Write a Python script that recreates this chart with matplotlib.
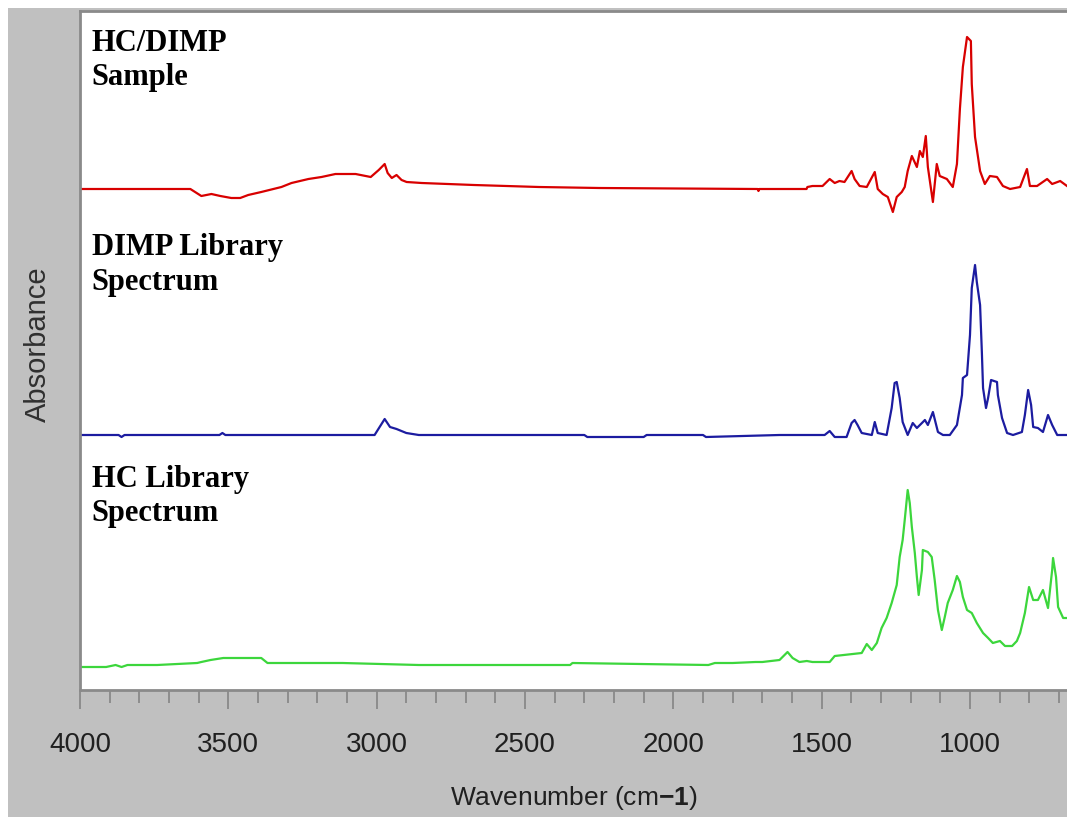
import matplotlib
matplotlib.use("Agg")
import matplotlib.pyplot as plt
from matplotlib.patches import Rectangle
from matplotlib.ticker import MultipleLocator

plt.rcParams["font.family"] = ["Liberation Sans", "DejaVu Sans"]
plt.rcParams["mathtext.fontset"] = "custom"
plt.rcParams["mathtext.rm"] = "Liberation Sans"
plt.rcParams["mathtext.bf"] = "Liberation Sans:bold"

# HC/DIMP sample spectrum (wavenumber, absorbance above its own baseline)
sample_wn = [4000, 3628, 3591, 3557, 3527, 3490, 3460, 3433, 3389, 3321, 3287,
             3230, 3186, 3139, 3071, 3020, 2993, 2973, 2963, 2949, 2933, 2916,
             2899, 2848, 2672, 2453, 2250, 1716, 1713, 1710, 1642, 1551, 1548,
             1531, 1497, 1473, 1456, 1440, 1423, 1399, 1389, 1372, 1348, 1321,
             1311, 1294, 1277, 1260, 1247, 1230, 1220, 1210, 1196, 1179, 1169,
             1159, 1149, 1142, 1125, 1112, 1102, 1078, 1058, 1044, 1034, 1024,
             1010, 997, 994, 983, 966, 950, 933, 909, 889, 865, 831, 808, 798,
             774, 740, 723, 696, 673]
sample_abs = [0.00, 0.00, -0.07, -0.05, -0.07, -0.09, -0.09, -0.06, -0.03, 0.02,
              0.06, 0.10, 0.12, 0.15, 0.15, 0.12, 0.19, 0.25, 0.16, 0.11, 0.14,
              0.09, 0.07, 0.06, 0.04, 0.02, 0.01, 0.00, -0.02, 0.00, 0.00, 0.00,
              0.02, 0.03, 0.03, 0.10, 0.06, 0.08, 0.07, 0.18, 0.10, 0.03, 0.02,
              0.17, 0.00, -0.05, -0.08, -0.23, -0.08, -0.03, 0.02, 0.18, 0.33,
              0.22, 0.38, 0.32, 0.53, 0.22, -0.13, 0.25, 0.13, 0.10, 0.02, 0.25,
              0.80, 1.22, 1.52, 1.48, 1.05, 0.52, 0.18, 0.05, 0.13, 0.12, 0.03,
              0.00, 0.02, 0.20, 0.03, 0.03, 0.10, 0.05, 0.08, 0.03]

# DIMP library spectrum
dimp_wn = [4000, 3870, 3860, 3850, 3740, 3530, 3520, 3510, 3007, 2990, 2973,
           2955, 2933, 2900, 2858, 2300, 2290, 2100, 2090, 1900, 1890, 1642,
           1490, 1473, 1456, 1416, 1399, 1389, 1379, 1365, 1331, 1321, 1311,
           1281, 1264, 1254, 1247, 1237, 1227, 1210, 1193, 1179, 1162, 1152,
           1142, 1125, 1108, 1091, 1068, 1044, 1027, 1024, 1010, 1000, 994,
           983, 977, 966, 960, 956, 946, 939, 929, 909, 906, 892, 875, 855,
           825, 815, 804, 794, 787, 771, 754, 737, 723, 706, 673]
dimp_abs = [0.00, 0.00, -0.02, 0.00, 0.00, 0.00, 0.02, 0.00, 0.00, 0.08, 0.16,
            0.08, 0.06, 0.02, 0.00, 0.00, -0.02, -0.02, 0.00, 0.00, -0.02, 0.00,
            0.00, 0.04, -0.02, -0.02, 0.12, 0.15, 0.10, 0.02, 0.00, 0.13, 0.02,
            0.00, 0.27, 0.52, 0.53, 0.37, 0.13, 0.00, 0.12, 0.07, 0.12, 0.15,
            0.10, 0.23, 0.03, 0.00, 0.00, 0.10, 0.40, 0.57, 0.60, 1.00, 1.47,
            1.70, 1.53, 1.30, 0.83, 0.47, 0.27, 0.37, 0.55, 0.53, 0.40, 0.17,
            0.02, 0.00, 0.03, 0.20, 0.45, 0.30, 0.08, 0.07, 0.03, 0.20, 0.10,
            0.00, 0.00]

# HC library spectrum
hc_wn = [4000, 3912, 3880, 3860, 3840, 3740, 3605, 3591, 3560, 3517, 3389,
         3368, 3115, 2858, 2348, 2340, 1882, 1860, 1800, 1723, 1700, 1642,
         1615, 1598, 1575, 1550, 1531, 1473, 1456, 1365, 1348, 1331, 1314,
         1298, 1281, 1264, 1247, 1237, 1227, 1220, 1210, 1203, 1196, 1186,
         1179, 1173, 1162, 1159, 1142, 1129, 1119, 1108, 1095, 1085, 1075,
         1058, 1044, 1034, 1024, 1010, 994, 977, 956, 939, 923, 899, 882,
         858, 842, 831, 815, 801, 787, 771, 754, 737, 723, 720, 710, 703,
         686, 673]
hc_abs = [-0.02, -0.02, 0.00, -0.02, 0.00, 0.00, 0.02, 0.03, 0.05, 0.07, 0.07,
          0.02, 0.02, 0.00, 0.00, 0.02, 0.00, 0.02, 0.02, 0.03, 0.03, 0.05,
          0.13, 0.07, 0.03, 0.04, 0.03, 0.03, 0.09, 0.12, 0.21, 0.15, 0.22,
          0.37, 0.47, 0.62, 0.80, 1.08, 1.25, 1.45, 1.75, 1.62, 1.38, 1.12,
          0.88, 0.70, 0.95, 1.15, 1.13, 1.08, 0.85, 0.55, 0.35, 0.48, 0.62,
          0.75, 0.89, 0.83, 0.68, 0.55, 0.52, 0.42, 0.32, 0.27, 0.22, 0.24,
          0.19, 0.19, 0.24, 0.32, 0.52, 0.78, 0.65, 0.65, 0.75, 0.57, 0.95,
          1.07, 0.88, 0.58, 0.47, 0.47]

labels = ["HC/DIMP\nSample", "DIMP Library\nSpectrum", "HC Library\nSpectrum"]
colors = ["#d80000", "#1c1ca0", "#3cd63c"]
offsets = [5.01, 2.55, 0.25]
label_y = [0.974, 0.673, 0.332]

fig = plt.figure(figsize=(10.67, 8.17), dpi=100, facecolor="white")
fig.patches.append(Rectangle((8 / 1067, 0), 1, (817 - 8) / 817,
                             transform=fig.transFigure, facecolor="#c0c0c0",
                             edgecolor="none", zorder=-10))

ax = fig.add_axes([80 / 1067, 127 / 817, 1 - 80 / 1067, 679 / 817])
ax.set_facecolor("white")

spectra = [(sample_wn, sample_abs), (dimp_wn, dimp_abs), (hc_wn, hc_abs)]
for (wn, ab), c, off in zip(spectra, colors, offsets):
    ax.plot(wn, [a + off for a in ab], color=c, lw=1.6)

for lab, ly in zip(labels, label_y):
    ax.text(0.012, ly, lab, transform=ax.transAxes, ha="left", va="top",
            family="Liberation Serif", weight="bold", fontsize=22,
            linespacing=1.25)

ax.set_xlim(4000, 673)
ax.set_ylim(0, 6.79)
ax.set_yticks([])
ax.xaxis.set_major_locator(MultipleLocator(500))
ax.xaxis.set_minor_locator(MultipleLocator(100))
ax.tick_params(axis="x", which="major", direction="out", length=14, width=1.1,
               color="#808080", pad=16, labelsize=20, labelcolor="#202020")
ax.tick_params(axis="x", which="minor", direction="out", length=9, width=1.1,
               color="#808080")

for s in ["left", "top", "bottom"]:
    ax.spines[s].set_color("#8a8a8a")
    ax.spines[s].set_linewidth(2)
ax.spines["right"].set_visible(False)

ax.set_xlabel(r"Wavenumber (cm$\mathbf{-1}$)", fontsize=19, color="#202020",
              labelpad=19)
ax.set_ylabel("Absorbance", fontsize=21, color="#303030")
ax.yaxis.set_label_coords(-0.0284, 0.51)

plt.savefig("out.png", dpi=100, facecolor=fig.get_facecolor())
